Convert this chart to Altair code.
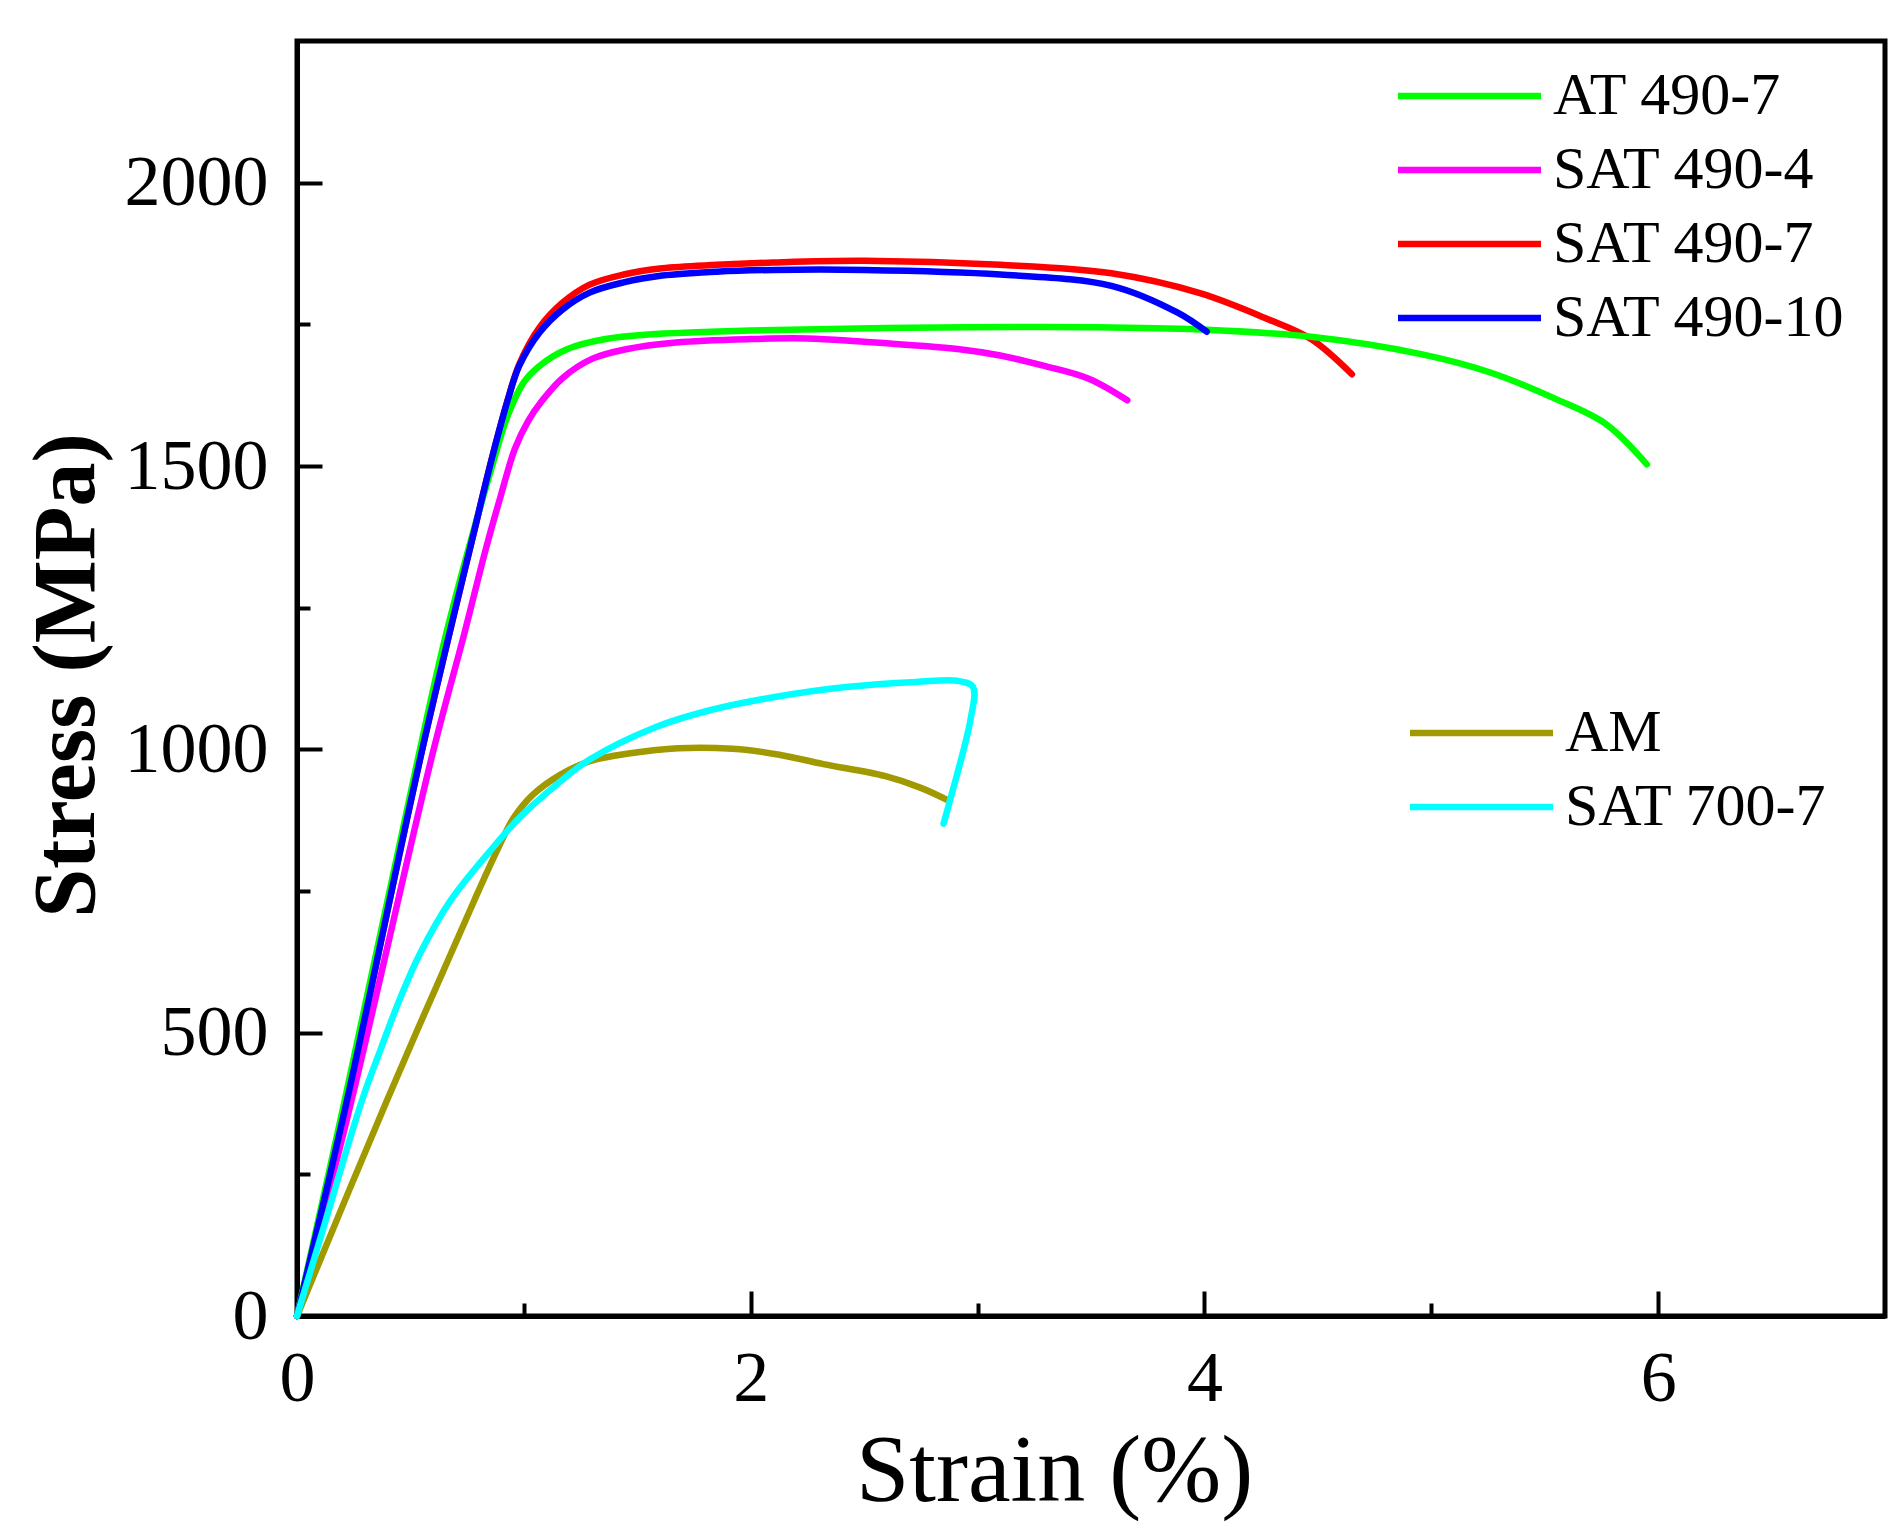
import altair as alt
import pandas as pd

# ---------------- data ----------------
at490_7_strain = [0, 0.21, 0.54, 0.66, 0.86, 0.93, 1.0, 1.07, 1.19, 1.36, 1.55, 2.0, 2.7, 3.52, 3.98, 4.47, 4.96, 5.26, 5.55, 5.77, 5.95]
at490_7_stress = [0, 380, 996, 1208, 1500, 1590, 1648, 1677, 1706, 1724, 1732, 1739, 1744, 1745, 1741, 1728, 1697, 1665, 1618, 1574, 1503]

sat490_4_strain = [0, 0.24, 0.6, 0.74, 0.83, 0.90, 0.96, 1.02, 1.08, 1.17, 1.3, 1.45, 1.67, 2.0, 2.25, 2.47, 2.92, 3.1, 3.29, 3.49, 3.66]
sat490_4_stress = [0, 380, 996, 1208, 1350, 1450, 1530, 1580, 1615, 1655, 1689, 1706, 1718, 1724, 1725, 1720, 1706, 1695, 1677, 1654, 1616]

sat490_7_strain = [0, 0.22, 0.55, 0.79, 0.86, 0.93, 0.98, 1.07, 1.17, 1.29, 1.44, 1.61, 1.85, 2.1, 2.5, 3.1, 3.59, 3.98, 4.28, 4.47, 4.65]
sat490_7_stress = [0, 380, 996, 1400, 1515, 1618, 1680, 1745, 1788, 1820, 1838, 1849, 1855, 1859, 1862, 1855, 1840, 1805, 1759, 1724, 1662]

sat490_10_strain = [0, 0.22, 0.55, 0.79, 0.86, 0.93, 0.98, 1.07, 1.17, 1.29, 1.44, 1.61, 1.85, 2.1, 2.5, 3.1, 3.59, 3.88, 4.01]
sat490_10_stress = [0, 380, 996, 1400, 1515, 1618, 1677, 1736, 1776, 1806, 1824, 1836, 1843, 1846, 1846, 1838, 1818, 1771, 1737]

am_strain = [0, 0.396, 0.78, 0.88, 0.955, 1.04, 1.16, 1.29, 1.47, 1.68, 1.92, 2.12, 2.32, 2.59, 2.75, 2.87]
am_stress = [0, 380, 732, 820, 879, 920, 955, 979, 993, 1002, 1001, 991, 974, 953, 932, 910]

sat700_7_strain = [0, 0.12, 0.286, 0.37, 0.45, 0.543, 0.675, 0.85, 0.98, 1.145, 1.29, 1.58, 1.82, 2.1, 2.42, 2.73, 2.91, 2.98, 2.97, 2.88, 2.85]
sat700_7_stress = [0, 160, 380, 472, 556, 640, 732, 820, 879, 938, 982, 1039, 1069, 1092, 1110, 1119, 1121, 1110, 1055, 912, 869]

upper_names = ["AT 490-7", "SAT 490-4", "SAT 490-7", "SAT 490-10"]
upper_colors = ["#00FF00", "#FF00FF", "#FF0000", "#0000FF"]
lower_names = ["AM", "SAT 700-7"]
lower_colors = ["#A09A00", "#00FFFF"]

x_major = [0, 2, 4, 6]
x_minor = [1, 3, 5]
y_major = [0, 500, 1000, 1500, 2000]
y_minor = [250, 750, 1250, 1750]


def build(series):
    rows = []
    for name, xs, ys in series:
        for i, (a, b) in enumerate(zip(xs, ys)):
            rows.append({"series": name, "idx": i, "strain": a, "stress": b})
    return pd.DataFrame(rows)


# drawing order: red, magenta, green, blue (blue on top)
df_up = build([
    ("SAT 490-7", sat490_7_strain, sat490_7_stress),
    ("SAT 490-4", sat490_4_strain, sat490_4_stress),
    ("AT 490-7", at490_7_strain, at490_7_stress),
    ("SAT 490-10", sat490_10_strain, sat490_10_stress),
])
df_low = build([
    ("AM", am_strain, am_stress),
    ("SAT 700-7", sat700_7_strain, sat700_7_stress),
])

# ---------------- layout ----------------
W, H = 1588, 1275
FONT = "Liberation Serif"
xsc = alt.Scale(domain=[0, 7], nice=False, zero=False)
ysc = alt.Scale(domain=[0, 2250], nice=False, zero=False)
LW = 6.5


def legend(x, y):
    return alt.Legend(
        orient="none", legendX=x, legendY=y, title=None,
        symbolType="M0,0L10,0", symbolSize=818, symbolStrokeWidth=LW,
        labelFont=FONT, labelFontSize=60, labelColor="black",
        labelOffset=125, rowPadding=14, padding=0, symbolOffset=0,
        labelBaseline="middle", labelLimit=0,
    )


line_kw = dict(strokeWidth=LW, strokeCap="round", strokeJoin="round", interpolate="catmull-rom")

upper = alt.Chart(df_up).mark_line(**line_kw).encode(
    x=alt.X("strain:Q", scale=xsc, axis=alt.Axis(
        orient="bottom", values=x_major, ticks=False, tickSize=0, format="d",
        labelFont=FONT, labelFontSize=72, labelColor="black", labelPadding=27, labelFlush=False,
        domain=True, domainColor="black", domainWidth=5, grid=False,
        title="Strain (%)", titleFont=FONT, titleFontSize=96, titleFontWeight="normal",
        titleColor="black", titleX=757, titleY=184, titleBaseline="alphabetic", titleAlign="center")),
    y=alt.Y("stress:Q", scale=ysc, axis=alt.Axis(
        orient="left", values=y_major, ticks=False, tickSize=0, format="d",
        labelFont=FONT, labelFontSize=72, labelColor="black", labelPadding=29, labelFlush=False,
        domain=True, domainColor="black", domainWidth=5, grid=False,
        title="Stress (MPa)", titleFont=FONT, titleFontSize=88, titleFontWeight="bold",
        titleColor="black", titleAngle=270, titleX=-204, titleY=634,
        titleBaseline="alphabetic", titleAlign="center")),
    color=alt.Color("series:N", scale=alt.Scale(domain=upper_names, range=upper_colors),
                    legend=legend(1071, 25)),
    order=alt.Order("idx:Q"),
)

lower = alt.Chart(df_low).mark_line(**line_kw).encode(
    x=alt.X("strain:Q", scale=xsc, axis=alt.Axis(
        orient="top", offset=-H, values=x_major, ticks=True, tickSize=25, tickWidth=4,
        tickColor="black", labels=False, domain=False, grid=False, title=None)),
    y=alt.Y("stress:Q", scale=ysc, axis=alt.Axis(
        orient="right", offset=-W, values=y_major, ticks=True, tickSize=25, tickWidth=4,
        tickColor="black", labels=False, domain=False, grid=False, title=None)),
    color=alt.Color("series:N", scale=alt.Scale(domain=lower_names, range=lower_colors),
                    legend=legend(1083, 662)),
    order=alt.Order("idx:Q"),
)

minor = alt.Chart(df_low).mark_point(opacity=0).encode(
    x=alt.X("strain:Q", scale=xsc, axis=alt.Axis(
        orient="top", offset=-H, values=x_minor, ticks=True, tickSize=13, tickWidth=4,
        tickColor="black", labels=False, domain=False, grid=False, title=None)),
    y=alt.Y("stress:Q", scale=ysc, axis=alt.Axis(
        orient="right", offset=-W, values=y_minor, ticks=True, tickSize=13, tickWidth=4,
        tickColor="black", labels=False, domain=False, grid=False, title=None)),
)

chart = alt.layer(upper, lower, minor).resolve_scale(
    color="independent"
).resolve_axis(
    x="independent", y="independent"
).properties(
    width=W, height=H,
    autosize=alt.AutoSizeParams(type="none"),
    padding={"left": 289, "top": 33, "right": 8, "bottom": 206},
    background="white",
).configure_view(
    stroke="black", strokeWidth=5, fill="white"
)

chart.save("out.html", embed_options={"renderer": "svg", "actions": False})
